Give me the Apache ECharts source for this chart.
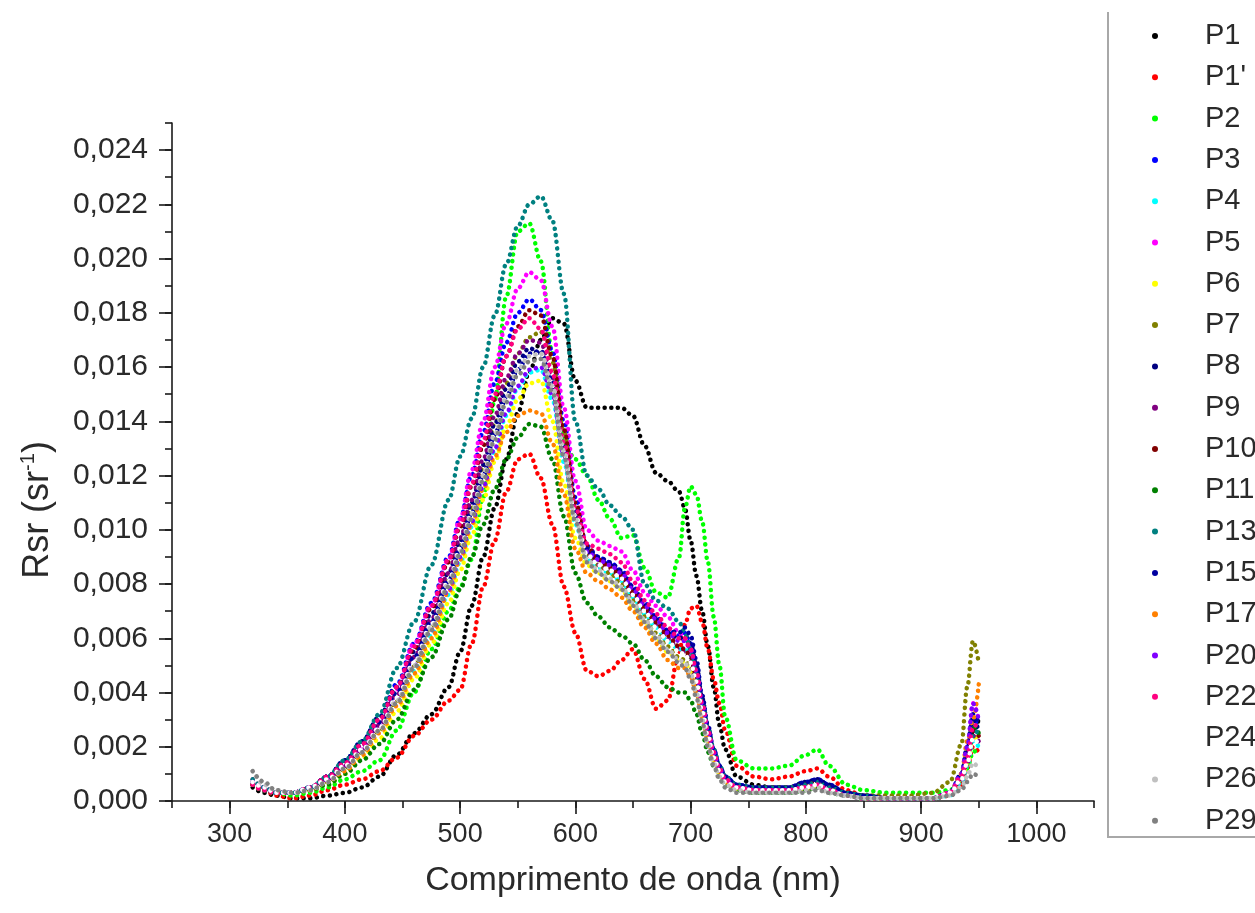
<!DOCTYPE html>
<html>
<head>
<meta charset="utf-8">
<script src="https://cdn.jsdelivr.net/npm/echarts@6/dist/echarts.min.js"></script>
<style>
html, body { margin: 0; padding: 0; background: #fff; }
#chart { width: 1255px; height: 913px; }
</style>
</head>
<body>
<div id="chart"></div>
<script>
// Wavelength nodes (nm) shared by every spectrum
const wavelengths = [
  320, 330, 340, 355, 370, 385, 400, 415, 430, 445,
  460, 475, 490, 500, 510, 520, 530, 540, 550, 560,
  570, 580, 590, 600, 610, 620, 630, 640, 650, 660,
  670, 680, 690, 695, 700, 705, 710, 715, 720, 725,
  730, 740, 755, 770, 785, 800, 810, 820, 835, 850,
  870, 890, 910, 925, 935, 940, 945, 950
];

// Remote sensing reflectance Rsr (sr^-1) per station
const P1 = [
  .0005, .0003, .0002, .0001, .0001, .0002, .0003, .0005, .0009, .0017,
  .0025, .0032, .0042, .0055, .0072, .0090, .0108, .0126, .0143, .0158,
  .0170, .0178, .0176, .0155, .0145, .0145, .0145, .0145, .0142, .0131,
  .0121, .0118, .0114, .0108, .0096, .0083, .0070, .0057, .0042, .0028,
  .0019, .0009, .0006, .0005, .0005, .0006, .0007, .0005, .0003, .0002,
  .0001, .0001, .0001, .0002, .0007, .0014, .0026, .0030
];
const P1b = [
  .0006, .0004, .0002, .0001, .0002, .0004, .0006, .0008, .0011, .0016,
  .0024, .0030, .0037, .0041, .0058, .0079, .0096, .0114, .0126, .0128,
  .0119, .0102, .0079, .0062, .0048, .0046, .0048, .0052, .0056, .0045,
  .0034, .0037, .0055, .0065, .0071, .0072, .0066, .0056, .0045, .0036,
  .0026, .0013, .0009, .0008, .0009, .0011, .0012, .0009, .0004, .0002,
  .0001, .0001, .0001, .0002, .0006, .0012, .0020, .0018
];
const P2 = [
  .0006, .0004, .0003, .0002, .0003, .0005, .0008, .0011, .0015, .0026,
  .0040, .0056, .0070, .0079, .0089, .0112, .0148, .0186, .0210, .0213,
  .0199, .0165, .0132, .0126, .0120, .0111, .0104, .0097, .0098, .0086,
  .0077, .0075, .0090, .0108, .0116, .0113, .0103, .0088, .0068, .0050,
  .0031, .0015, .0012, .0012, .0013, .0017, .0019, .0013, .0006, .0004,
  .0003, .0003, .0003, .0004, .0008, .0012, .0018, .0020
];
const P3 = [
  .0006, .0004, .0003, .0003, .0005, .0009, .0015, .0022, .0031, .0043,
  .0058, .0073, .0090, .0104, .0120, .0136, .0154, .0169, .0180, .0185,
  .0181, .0166, .0140, .0112, .0094, .0090, .0088, .0085, .0079, .0073,
  .0068, .0063, .0061, .0062, .0058, .0050, .0037, .0027, .0019, .0013,
  .0009, .0006, .0005, .0005, .0005, .0007, .0008, .0006, .0003, .0002,
  .0001, .0001, .0001, .0003, .0010, .0020, .0030, .0028
];
const P4 = [
  .0006, .0004, .0003, .0003, .0004, .0007, .0012, .0018, .0026, .0036,
  .0048, .0061, .0076, .0088, .0101, .0115, .0129, .0142, .0152, .0158,
  .0159, .0148, .0125, .0102, .0089, .0086, .0084, .0081, .0075, .0069,
  .0064, .0059, .0056, .0056, .0053, .0046, .0035, .0025, .0017, .0011,
  .0008, .0005, .0004, .0004, .0004, .0005, .0006, .0004, .0002, .0001,
  .0001, .0001, .0001, .0002, .0007, .0013, .0022, .0020
];
const P5 = [
  .0006, .0004, .0003, .0003, .0005, .0008, .0013, .0020, .0029, .0041,
  .0058, .0072, .0089, .0104, .0122, .0140, .0160, .0176, .0189, .0195,
  .0192, .0175, .0145, .0118, .0100, .0096, .0094, .0092, .0085, .0077,
  .0072, .0068, .0062, .0060, .0055, .0046, .0035, .0025, .0017, .0012,
  .0008, .0005, .0004, .0004, .0004, .0005, .0006, .0004, .0002, .0001,
  .0001, .0001, .0001, .0003, .0010, .0018, .0036, .0030
];
const P6 = [
  .0006, .0004, .0003, .0003, .0004, .0006, .0010, .0016, .0023, .0033,
  .0045, .0058, .0073, .0085, .0098, .0111, .0125, .0138, .0148, .0154,
  .0155, .0140, .0117, .0097, .0087, .0084, .0081, .0078, .0072, .0066,
  .0060, .0055, .0052, .0051, .0048, .0041, .0031, .0022, .0015, .0010,
  .0007, .0004, .0004, .0004, .0004, .0004, .0005, .0004, .0002, .0001,
  .0001, .0001, .0001, .0003, .0008, .0014, .0024, .0022
];
const P7 = [
  .0007, .0005, .0003, .0003, .0004, .0007, .0012, .0018, .0026, .0037,
  .0050, .0064, .0081, .0094, .0108, .0123, .0139, .0154, .0165, .0171,
  .0173, .0162, .0136, .0108, .0091, .0087, .0084, .0080, .0074, .0068,
  .0062, .0057, .0053, .0052, .0049, .0043, .0033, .0024, .0016, .0011,
  .0007, .0005, .0004, .0004, .0004, .0005, .0006, .0004, .0003, .0002,
  .0002, .0002, .0003, .0007, .0021, .0042, .0059, .0051
];
const P8 = [
  .0006, .0004, .0003, .0003, .0005, .0009, .0015, .0022, .0031, .0042,
  .0055, .0069, .0084, .0096, .0110, .0124, .0139, .0152, .0162, .0167,
  .0165, .0152, .0128, .0105, .0092, .0089, .0087, .0084, .0078, .0072,
  .0067, .0062, .0060, .0061, .0058, .0050, .0038, .0027, .0019, .0013,
  .0009, .0006, .0005, .0005, .0005, .0007, .0008, .0006, .0003, .0002,
  .0001, .0001, .0001, .0003, .0009, .0018, .0030, .0026
];
const P9 = [
  .0008, .0005, .0003, .0003, .0005, .0008, .0013, .0019, .0028, .0039,
  .0053, .0067, .0084, .0097, .0111, .0126, .0142, .0156, .0165, .0170,
  .0169, .0156, .0131, .0106, .0091, .0087, .0085, .0082, .0076, .0070,
  .0065, .0060, .0056, .0055, .0052, .0045, .0034, .0024, .0016, .0011,
  .0007, .0005, .0004, .0004, .0004, .0005, .0006, .0004, .0002, .0001,
  .0001, .0001, .0001, .0003, .0008, .0014, .0024, .0022
];
const P10 = [
  .0006, .0004, .0003, .0003, .0005, .0009, .0014, .0021, .0030, .0042,
  .0056, .0071, .0088, .0101, .0116, .0131, .0148, .0164, .0175, .0181,
  .0179, .0164, .0137, .0110, .0094, .0089, .0086, .0083, .0077, .0071,
  .0066, .0061, .0057, .0056, .0053, .0046, .0035, .0025, .0017, .0011,
  .0008, .0005, .0005, .0005, .0005, .0006, .0007, .0005, .0003, .0002,
  .0001, .0001, .0001, .0003, .0009, .0016, .0026, .0024
];
const P11 = [
  .0006, .0004, .0003, .0003, .0004, .0006, .0010, .0015, .0021, .0030,
  .0041, .0053, .0067, .0078, .0090, .0102, .0115, .0126, .0134, .0139,
  .0138, .0126, .0105, .0084, .0073, .0068, .0064, .0061, .0058, .0052,
  .0046, .0042, .0040, .0040, .0037, .0032, .0025, .0018, .0013, .0009,
  .0006, .0004, .0003, .0003, .0003, .0004, .0005, .0003, .0002, .0001,
  .0001, .0001, .0001, .0003, .0009, .0016, .0028, .0025
];
const P13 = [
  .0008, .0005, .0003, .0003, .0005, .0009, .0015, .0022, .0032, .0049,
  .0066, .0087, .0111, .0127, .0141, .0160, .0179, .0198, .0212, .0220,
  .0223, .0214, .0187, .0140, .0120, .0115, .0109, .0105, .0100, .0080,
  .0074, .0071, .0066, .0062, .0056, .0047, .0036, .0027, .0019, .0013,
  .0009, .0006, .0005, .0005, .0005, .0006, .0007, .0005, .0003, .0002,
  .0001, .0001, .0001, .0003, .0010, .0016, .0024, .0027
];
const P15 = [
  .0006, .0004, .0003, .0003, .0005, .0009, .0014, .0021, .0029, .0040,
  .0053, .0066, .0081, .0093, .0106, .0120, .0135, .0149, .0159, .0165,
  .0166, .0155, .0131, .0107, .0093, .0090, .0088, .0085, .0079, .0073,
  .0068, .0063, .0062, .0064, .0061, .0052, .0039, .0028, .0019, .0013,
  .0009, .0006, .0005, .0005, .0005, .0007, .0008, .0006, .0003, .0002,
  .0001, .0001, .0001, .0003, .0010, .0020, .0032, .0029
];
const P17 = [
  .0006, .0004, .0003, .0003, .0004, .0007, .0011, .0017, .0025, .0035,
  .0047, .0060, .0077, .0089, .0102, .0115, .0127, .0136, .0142, .0144,
  .0143, .0132, .0113, .0093, .0084, .0081, .0078, .0075, .0070, .0064,
  .0058, .0052, .0049, .0049, .0046, .0040, .0031, .0023, .0016, .0011,
  .0007, .0005, .0004, .0004, .0004, .0005, .0006, .0004, .0002, .0001,
  .0001, .0001, .0001, .0003, .0010, .0022, .0030, .0043
];
const P20 = [
  .0007, .0005, .0003, .0003, .0005, .0008, .0013, .0019, .0027, .0037,
  .0050, .0063, .0078, .0090, .0103, .0116, .0130, .0143, .0153, .0159,
  .0160, .0150, .0128, .0105, .0092, .0089, .0087, .0084, .0078, .0072,
  .0067, .0062, .0059, .0059, .0056, .0048, .0036, .0026, .0018, .0012,
  .0008, .0005, .0004, .0004, .0004, .0005, .0006, .0004, .0002, .0001,
  .0001, .0001, .0001, .0003, .0010, .0020, .0036, .0030
];
const P22 = [
  .0006, .0004, .0003, .0003, .0005, .0009, .0014, .0021, .0030, .0042,
  .0057, .0072, .0089, .0102, .0117, .0133, .0150, .0164, .0174, .0178,
  .0174, .0158, .0132, .0108, .0095, .0093, .0091, .0088, .0081, .0074,
  .0069, .0064, .0060, .0060, .0056, .0048, .0036, .0026, .0018, .0012,
  .0008, .0005, .0004, .0004, .0004, .0005, .0006, .0004, .0002, .0001,
  .0001, .0001, .0001, .0003, .0009, .0016, .0027, .0030
];
const P24 = [
  .0007, .0005, .0003, .0003, .0005, .0008, .0013, .0019, .0027, .0038,
  .0051, .0065, .0081, .0093, .0106, .0120, .0135, .0149, .0159, .0164,
  .0165, .0153, .0129, .0105, .0091, .0087, .0085, .0082, .0076, .0070,
  .0064, .0059, .0055, .0054, .0051, .0044, .0033, .0024, .0016, .0011,
  .0007, .0005, .0004, .0004, .0004, .0005, .0006, .0004, .0002, .0001,
  .0001, .0001, .0001, .0003, .0008, .0014, .0023, .0021
];
const P26 = [
  .0011, .0006, .0004, .0003, .0004, .0007, .0012, .0018, .0026, .0037,
  .0050, .0064, .0080, .0092, .0106, .0120, .0135, .0149, .0159, .0164,
  .0165, .0153, .0129, .0104, .0089, .0085, .0082, .0079, .0073, .0067,
  .0061, .0056, .0052, .0051, .0047, .0040, .0030, .0021, .0014, .0009,
  .0006, .0004, .0003, .0003, .0003, .0004, .0005, .0003, .0002, .0001,
  .0001, .0001, .0001, .0002, .0005, .0009, .0014, .0012
];
const P29 = [
  .0011, .0007, .0004, .0003, .0004, .0007, .0012, .0018, .0026, .0036,
  .0049, .0063, .0079, .0091, .0104, .0118, .0133, .0147, .0157, .0162,
  .0163, .0151, .0127, .0103, .0088, .0084, .0081, .0078, .0072, .0066,
  .0060, .0055, .0051, .0049, .0045, .0038, .0029, .0020, .0013, .0008,
  .0005, .0003, .0003, .0003, .0003, .0003, .0004, .0003, .0002, .0001,
  .0001, .0001, .0001, .0002, .0004, .0007, .0010, .0009
];

const stationNames = ['P1', "P1'", 'P2', 'P3', 'P4', 'P5', 'P6', 'P7', 'P8', 'P9',
  'P10', 'P11', 'P13', 'P15', 'P17', 'P20', 'P22', 'P24', 'P26', 'P29'];
const stationValues = [P1, P1b, P2, P3, P4, P5, P6, P7, P8, P9,
  P10, P11, P13, P15, P17, P20, P22, P24, P26, P29];
const stationColors = ['#000000', '#ff0000', '#00ff00', '#0000ff', '#00ffff', '#ff00ff',
  '#ffff00', '#808000', '#000080', '#800080', '#800000', '#008000', '#008080',
  '#0000a0', '#ff8000', '#8000ff', '#ff0080', '#ffffff', '#c0c0c0', '#808080'];

// Labelled tick positions
const xTickValues = [300, 400, 500, 600, 700, 800, 900, 1000];
const yTickValues = [0, 0.002, 0.004, 0.006, 0.008, 0.010, 0.012,
  0.014, 0.016, 0.018, 0.020, 0.022, 0.024];

const FONT = '"Liberation Sans", Arial, Helvetica, sans-serif';
const INK = '#1a1a1a';
const TEXT = '#2a2a2a';

const chart = echarts.init(document.getElementById('chart'), null, { renderer: 'canvas' });

// Each spectrum is drawn as a row of round dots following the curve
const series = stationNames.map((name, k) => ({
  name: name,
  type: 'line',
  xAxisIndex: 0,
  yAxisIndex: 0,
  data: wavelengths.map((w, i) => [w, stationValues[k][i]]),
  smooth: 0.35,
  smoothMonotone: 'x',
  showSymbol: false,
  symbol: 'circle',
  silent: true,
  color: stationColors[k],
  itemStyle: { color: stationColors[k] },
  lineStyle: { color: stationColors[k], width: 4.5, type: [0.1, 6.5], cap: 'round' },
  animation: false
}));

chart.setOption({
  backgroundColor: '#ffffff',
  animation: false,
  grid: { left: 172, right: 161, top: 123, bottom: 112, containLabel: false },
  xAxis: [
    {
      type: 'value', min: 250, max: 1050, interval: 50,
      axisLine: { show: true, onZero: false, lineStyle: { color: INK, width: 1.6 } },
      axisTick: { show: true, inside: false, length: 7, lineStyle: { color: INK, width: 1.6 } },
      axisLabel: { show: false },
      splitLine: { show: false },
      name: 'Comprimento de onda (nm)',
      nameLocation: 'middle',
      nameGap: 63,
      nameTextStyle: { fontFamily: FONT, fontSize: 34, color: TEXT }
    },
    {
      type: 'value', min: 250, max: 1050, position: 'bottom',
      axisLine: { show: false, onZero: false },
      axisTick: { show: true, inside: false, length: 13, customValues: xTickValues,
        lineStyle: { color: INK, width: 1.6 } },
      axisLabel: { show: true, customValues: xTickValues, margin: 20,
        fontFamily: FONT, fontSize: 27, color: TEXT,
        formatter: v => String(Math.round(v)) },
      splitLine: { show: false }
    }
  ],
  yAxis: [
    {
      type: 'value', min: 0, max: 0.025, interval: 0.001,
      axisLine: { show: true, onZero: false, lineStyle: { color: INK, width: 1.6 } },
      axisTick: { show: true, inside: false, length: 7, lineStyle: { color: INK, width: 1.6 } },
      axisLabel: { show: false },
      splitLine: { show: false }
    },
    {
      type: 'value', min: 0, max: 0.025, position: 'left',
      axisLine: { show: false, onZero: false },
      axisTick: { show: true, inside: false, length: 13, customValues: yTickValues,
        lineStyle: { color: INK, width: 1.6 } },
      axisLabel: {
        show: true, customValues: yTickValues, margin: 24,
        fontFamily: FONT, fontSize: 30, color: TEXT,
        formatter: v => v.toFixed(3).replace('.', ',')
      },
      splitLine: { show: false }
    }
  ],
  legend: {
    orient: 'vertical',
    left: 1147,
    top: 15,
    icon: 'circle',
    itemWidth: 6,
    itemHeight: 6,
    itemGap: 9.3,
    selectedMode: false,
    data: stationNames,
    textStyle: { fontFamily: FONT, fontSize: 29, lineHeight: 32, color: TEXT, padding: [0, 0, 0, 42] }
  },
  graphic: [
    {
      // legend frame: left and bottom edges
      type: 'polyline',
      z: -1,
      silent: true,
      shape: { points: [[1108, 12], [1108, 837], [1262, 837]] },
      style: { fill: 'none', stroke: '#a8a8a8', lineWidth: 2 }
    },
    {
      type: 'text',
      silent: true,
      x: 38,
      y: 510,
      rotation: Math.PI / 2,
      style: {
        text: 'Rsr (sr{sup|-1})',
        font: '36px ' + FONT,
        fill: TEXT,
        align: 'center',
        verticalAlign: 'middle',
        rich: {
          sup: { fontSize: 20, fontFamily: FONT, fill: TEXT, verticalAlign: 'top', lineHeight: 40 }
        }
      }
    }
  ],
  series: series
});
</script>
</body>
</html>
